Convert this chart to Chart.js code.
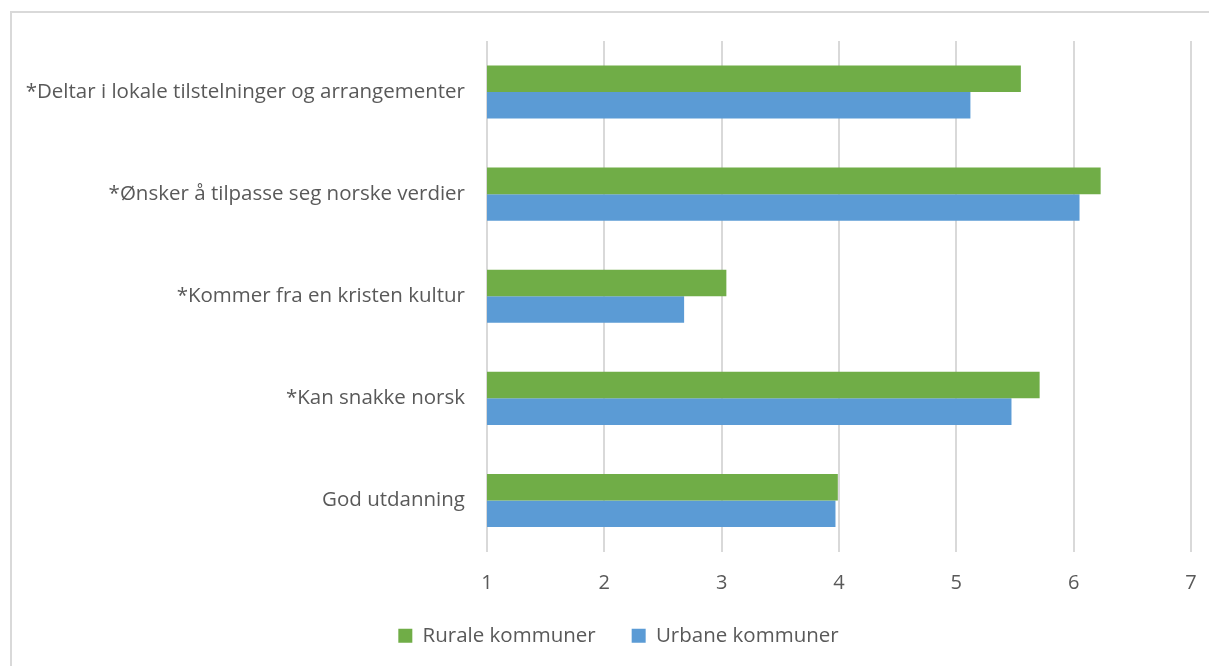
<!DOCTYPE html>
<html>
<head>
<meta charset="utf-8">
<script src="https://cdn.jsdelivr.net/npm/chart.js@4"></script>
<style>
  html, body { margin: 0; padding: 0; background: #fff; overflow: hidden; }
  #frame {
    position: absolute; left: 10px; top: 11px; width: 1400px; height: 800px;
    border-left: 2px solid #d9d9d9; border-top: 2px solid #d9d9d9;
  }
  #wrap { position: absolute; left: 0; top: 0; width: 1209px; height: 666px; }
</style>
</head>
<body>
<div id="frame"></div>
<div id="wrap"><canvas id="chart"></canvas></div>
<script>
const categories = [
  "*Deltar i lokale tilstelninger og arrangementer",
  "*Ønsker å tilpasse seg norske verdier",
  "*Kommer fra en kristen kultur",
  "*Kan snakke norsk",
  "God utdanning"
];
const rurale = [5.55, 6.23, 3.04, 5.71, 3.99];
const urbane = [5.12, 6.05, 2.68, 5.47, 3.97];
const xTicks = [1, 2, 3, 4, 5, 6, 7];

const textColor = "#595959";
const fontFamily = "'Open Sans', 'DejaVu Sans', sans-serif";

// nudge the legend right so it sits centred under the frame, like the original
const legendShift = {
  id: "legendShift",
  afterLayout(chart) {
    chart.legend.left += 18;
    chart.legend.right += 18;
  }
};

new Chart(document.getElementById("chart"), {
  type: "bar",
  data: {
    labels: categories,
    datasets: [{
      label: "Rurale kommuner",
      data: rurale,
      backgroundColor: "#70ad47",
      borderWidth: 0,
      categoryPercentage: 0.52,
      barPercentage: 1
    }, {
      label: "Urbane kommuner",
      data: urbane,
      backgroundColor: "#5b9bd5",
      borderWidth: 0,
      categoryPercentage: 0.52,
      barPercentage: 1
    }]
  },
  options: {
    indexAxis: "y",
    responsive: true,
    maintainAspectRatio: false,
    animation: false,
    layout: { padding: { left: 10, right: 18, top: 41, bottom: 10 } },
    plugins: {
      tooltip: { enabled: false },
      legend: {
        position: "bottom",
        labels: {
          color: textColor,
          font: { family: fontFamily, size: 20.5 },
          boxWidth: 14,
          boxHeight: 14,
          padding: 36
        }
      }
    },
    scales: {
      x: {
        min: xTicks[0],
        max: xTicks[xTicks.length - 1],
        afterBuildTicks: (scale) => { scale.ticks = xTicks.map(v => ({ value: v })); },
        afterFit: (scale) => { scale.height = 38; },
        border: { display: false },
        grid: { color: "#d9d9d9", lineWidth: 2, drawTicks: true, tickLength: 20, tickColor: "rgba(0,0,0,0)" },
        ticks: { color: textColor, font: { family: fontFamily, size: 20 }, padding: 0 }
      },
      y: {
        afterFit: (scale) => { scale.width = 477; },
        border: { display: false },
        grid: { display: false, drawTicks: false },
        ticks: { color: textColor, font: { family: fontFamily, size: 20.5 }, padding: 22 }
      }
    }
  },
  plugins: [legendShift]
});
</script>
</body>
</html>
